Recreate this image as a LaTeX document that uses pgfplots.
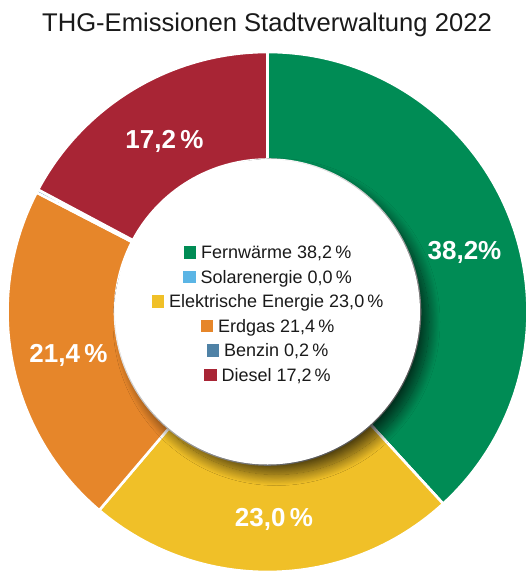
\documentclass[border=0pt]{standalone}
\usepackage{pgfplots}
\usepackage{pgfplotstable}
\pgfplotsset{compat=1.18}
\usetikzlibrary{shadows.blur}
\usepackage{fontspec}
\setmainfont{Liberation Sans}

\definecolor{slice0}{HTML}{008C55}
\definecolor{slice1}{HTML}{5BB5E5}
\definecolor{slice2}{HTML}{F0C028}
\definecolor{slice3}{HTML}{E6862A}
\definecolor{slice4}{HTML}{4F82A6}
\definecolor{slice5}{HTML}{A82535}
\definecolor{txt}{HTML}{1A1A1A}

% shares in percent, clockwise from 12 o'clock
\pgfplotstableread{
value
38.2
0.0
23.0
21.4
0.2
17.2
}\datatable

\newcommand{\legrow}[2]{\textcolor{#1}{\rule{12.5pt}{12.5pt}}\hspace{5pt}#2}

\begin{document}
\begin{tikzpicture}
% cumulative angles
\def\cum{90}
\foreach \i in {0,...,5}{
  \pgfplotstablegetelem{\i}{value}\of\datatable
  \pgfmathsetmacro\s{\cum}
  \pgfmathsetmacro\e{\cum-3.6*\pgfplotsretval}
  \expandafter\xdef\csname sa\i\endcsname{\s}
  \expandafter\xdef\csname ea\i\endcsname{\e}
  \xdef\cum{\e}
}
\begin{axis}[
    scale only axis,
    width=526pt, height=571pt,
    xmin=0, xmax=526, ymin=0, ymax=571,
    y dir=reverse,
    hide axis,
    clip=true,
]
\coordinate (C) at (axis cs:267.5,312);
\coordinate (BL) at (axis cs:0,571);
\coordinate (TR) at (axis cs:526,0);
\pgfplotsinvokeforeach{0,...,5}{
  \fill[slice#1, draw=white, line width=2.6pt]
    ([shift={(\csname sa#1\endcsname:260pt)}]C)
    arc[start angle=\csname sa#1\endcsname, end angle=\csname ea#1\endcsname, radius=260pt]
    -- ([shift={(\csname ea#1\endcsname:152.5pt)}]C)
    arc[start angle=\csname ea#1\endcsname, end angle=\csname sa#1\endcsname, radius=152.5pt]
    -- cycle;
}
\fill[white, blur shadow={shadow xshift=9pt, shadow yshift=-10pt,
      shadow blur radius=11pt, shadow blur steps=25, shadow opacity=65}]
  (C) circle[radius=152.5pt];

% slice labels
\begin{scope}[every node/.style={text=white, font=\bfseries\fontsize{26}{31}\selectfont, anchor=base, inner sep=0pt}]
\node at (axis cs:464.5,259) {38,2\%};
\node at (axis cs:274,526) {23,0\,\%};
\node at (axis cs:68.5,362) {21,4\,\%};
\node at (axis cs:164.5,148) {17,2\,\%};
\end{scope}

% legend inside the ring
\begin{scope}[every node/.style={text=txt, font=\fontsize{18}{21}\selectfont, anchor=base, inner sep=0pt}]
\node at (axis cs:267.5,258.5) {\legrow{slice0}{Fernwärme 38,2\,\%}};
\node at (axis cs:267.5,283.0) {\legrow{slice1}{Solarenergie 0,0\,\%}};
\node at (axis cs:267.5,307.5) {\legrow{slice2}{Elektrische Energie 23,0\,\%}};
\node at (axis cs:267.5,332.0) {\legrow{slice3}{Erdgas 21,4\,\%}};
\node at (axis cs:267.5,356.5) {\legrow{slice4}{Benzin 0,2\,\%}};
\node at (axis cs:267.5,381.0) {\legrow{slice5}{Diesel 17,2\,\%}};
\end{scope}

% title
\node[text=txt, font=\fontsize{25.6}{30}\selectfont, anchor=base, inner sep=0pt]
  at (axis cs:267,31) {THG-Emissionen Stadtverwaltung 2022};
\end{axis}
\pgfresetboundingbox
\useasboundingbox (BL) rectangle (TR);
\end{tikzpicture}
\end{document}
